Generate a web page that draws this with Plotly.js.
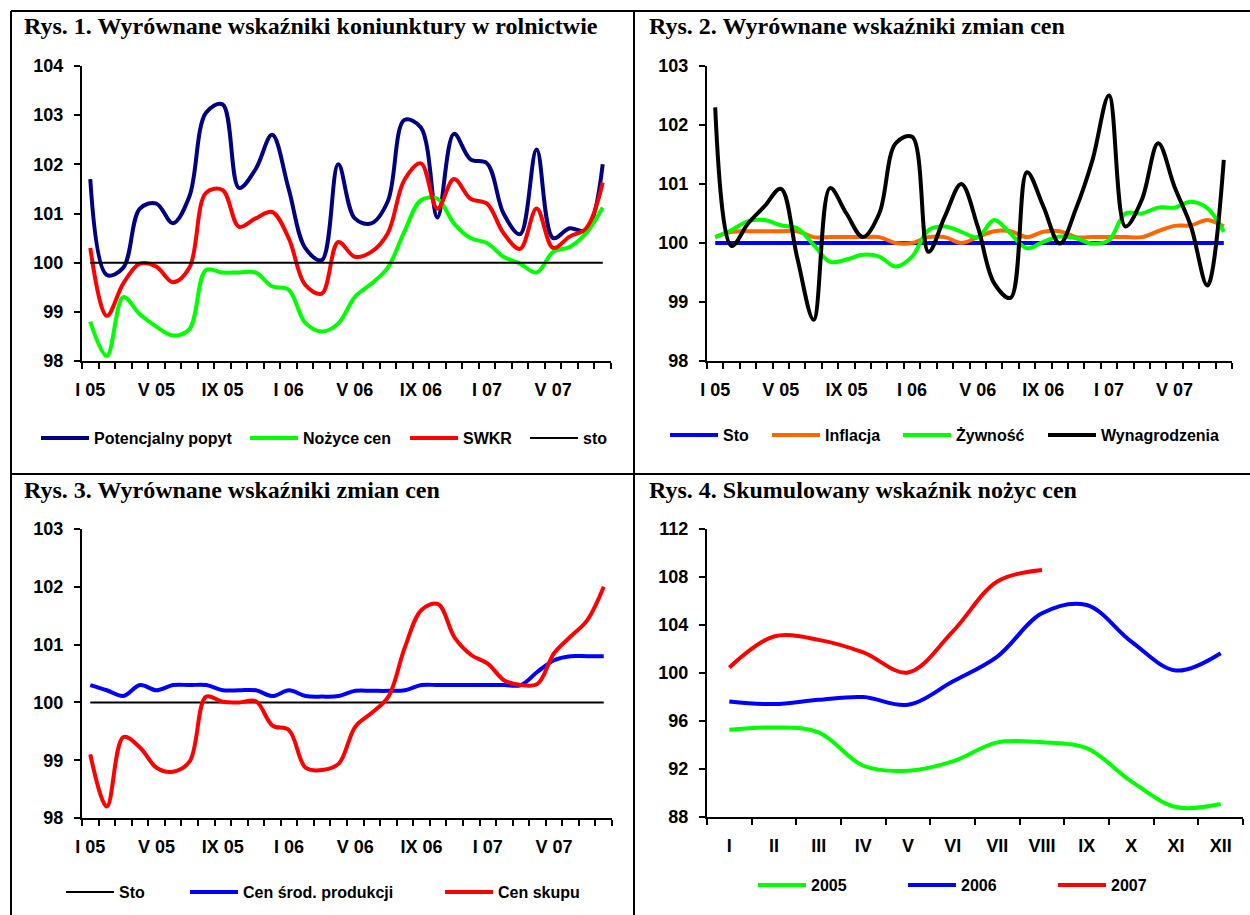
<!DOCTYPE html>
<html><head><meta charset="utf-8">
<script src="https://cdn.plot.ly/plotly-3.0.1.min.js"></script>
<style>html,body{margin:0;padding:0;background:#fff}#chart{width:1250px;height:915px}</style>
</head><body><div id="chart"></div>
<script>
// ---------- DATA ----------
const monthLabels = ['I 05','II 05','III 05','IV 05','V 05','VI 05','VII 05','VIII 05','IX 05','X 05','XI 05','XII 05',
  'I 06','II 06','III 06','IV 06','V 06','VI 06','VII 06','VIII 06','IX 06','X 06','XI 06','XII 06',
  'I 07','II 07','III 07','IV 07','V 07','VI 07','VII 07','VIII 07'];
const monthTickLabels = ['I 05','V 05','IX 05','I 06','V 06','IX 06','I 07','V 07'];
const romanMonths = ['I','II','III','IV','V','VI','VII','VIII','IX','X','XI','XII'];

// Rys. 1
const popyt  = [101.7, 99.75, 99.9, 101.1, 101.2, 100.8, 101.35, 103.05, 103.22, 101.52, 101.9, 102.6, 101.5, 100.3, 100.05, 102.0, 100.9, 100.8, 101.25, 102.9, 102.75, 100.92, 102.62, 102.1, 102.02, 101.0, 100.58, 102.3, 100.5, 100.7, 100.65, 102.0];
const nozyce = [98.8, 98.1, 99.3, 98.95, 98.7, 98.52, 98.65, 99.85, 99.8, 99.8, 99.8, 99.52, 99.45, 98.78, 98.6, 98.76, 99.3, 99.57, 99.9, 100.63, 101.27, 101.3, 100.8, 100.5, 100.4, 100.12, 99.98, 99.8, 100.22, 100.32, 100.6, 101.12];
const swkr   = [100.3, 98.92, 99.58, 99.98, 99.92, 99.6, 99.9, 101.42, 101.48, 100.73, 100.9, 101.03, 100.5, 99.55, 99.37, 100.42, 100.12, 100.22, 100.6, 101.68, 102.02, 101.1, 101.7, 101.3, 101.2, 100.6, 100.28, 101.1, 100.3, 100.53, 100.7, 101.63];
const sto1   = [100,100,100,100,100,100,100,100,100,100,100,100,100,100,100,100,100,100,100,100,100,100,100,100,100,100,100,100,100,100,100,100];

// Rys. 2
const sto2   = [100,100,100,100,100,100,100,100,100,100,100,100,100,100,100,100,100,100,100,100,100,100,100,100,100,100,100,100,100,100,100,100];
const inflacja = [100.1, 100.19, 100.2, 100.2, 100.2, 100.2, 100.1, 100.1, 100.1, 100.1, 100.1, 100.0, 100.0, 100.1, 100.1, 100.0, 100.1, 100.2, 100.2, 100.1, 100.19, 100.2, 100.1, 100.1, 100.1, 100.1, 100.1, 100.2, 100.29, 100.3, 100.39, 100.28];
const zywnosc  = [100.1, 100.22, 100.37, 100.39, 100.3, 100.25, 99.97, 99.68, 99.72, 99.8, 99.77, 99.6, 99.77, 100.22, 100.28, 100.19, 100.1, 100.39, 100.16, 99.91, 100.02, 100.11, 100.08, 99.99, 100.05, 100.5, 100.5, 100.6, 100.6, 100.7, 100.59, 100.19];
const wynagrodzenia = [102.3, 99.95, 100.33, 100.62, 100.92, 99.75, 98.7, 100.93, 100.5, 100.1, 100.5, 101.69, 101.8, 99.85, 100.45, 101.0, 100.28, 99.32, 99.07, 101.2, 100.62, 99.99, 100.59, 101.41, 102.5, 100.28, 100.73, 101.69, 100.95, 100.28, 99.28, 101.41];

// Rys. 3
const sto3 = [100,100,100,100,100,100,100,100,100,100,100,100,100,100,100,100,100,100,100,100,100,100,100,100,100,100,100,100,100,100,100,100];
const cenSrodProdukcji = [100.3, 100.21, 100.11, 100.3, 100.21, 100.3, 100.3, 100.3, 100.21, 100.21, 100.21, 100.11, 100.21, 100.11, 100.1, 100.11, 100.2, 100.2, 100.2, 100.21, 100.3, 100.3, 100.3, 100.3, 100.3, 100.3, 100.3, 100.53, 100.73, 100.8, 100.8, 100.8];
const cenSkupu = [99.1, 98.2, 99.4, 99.22, 98.87, 98.8, 98.98, 100.1, 100.01, 100.0, 100.02, 99.6, 99.52, 98.87, 98.83, 98.94, 99.58, 99.82, 100.1, 100.96, 101.6, 101.7, 101.12, 100.82, 100.67, 100.38, 100.3, 100.32, 100.85, 101.14, 101.42, 102.0];

// Rys. 4
const y2005 = [95.27, 95.46, 95.05, 92.27, 91.86, 92.63, 94.22, 94.22, 93.74, 90.97, 88.83, 89.08];
const y2006 = [97.63, 97.41, 97.77, 97.99, 97.35, 99.29, 101.37, 104.98, 105.67, 102.62, 100.21, 101.65];
const y2007 = [100.46, 103.04, 102.76, 101.71, 100.04, 103.45, 107.62, 108.59];

// ---------- BUILD ----------
const W = 1250, H = 915;
const idx = n => Array.from({length:n}, (_, i) => i);
const mx = idx(monthLabels.length);
const rx = idx(romanMonths.length);
const monthTickVals = monthTickLabels.map(l => monthLabels.indexOf(l));
const boundaries = n => Array.from({length:n+1}, (_, i) => i - 0.5);
const bold = {family:'Liberation Sans, Arial, sans-serif', size:18, color:'#000', weight:'bold'};
const legFont = {family:'Liberation Sans, Arial, sans-serif', size:16, color:'#000', weight:'bold'};

function line(name, x, y, xa, ya, color, width, leg) {
  return {type:'scatter', mode:'lines', name, x, y, xaxis:xa, yaxis:ya,
    line:{color, width, shape:'spline', smoothing:1}, legend:leg, hoverinfo:'skip'};
}
const T = 4;
const traces = [
  line('Potencjalny popyt', mx, popyt, 'x', 'y', '#000080', T, 'legend'),
  line('Nożyce cen', mx, nozyce, 'x', 'y', '#00FF00', T, 'legend2'),
  line('SWKR', mx, swkr, 'x', 'y', '#FF0000', T, 'legend3'),
  line('sto', mx, sto1, 'x', 'y', '#000000', 2, 'legend4'),
  line('Sto', mx, sto2, 'x2', 'y2', '#0000FF', T, 'legend5'),
  line('Inflacja', mx, inflacja, 'x2', 'y2', '#FF6600', T, 'legend6'),
  line('Żywność', mx, zywnosc, 'x2', 'y2', '#00FF00', T, 'legend7'),
  line('Wynagrodzenia', mx, wynagrodzenia, 'x2', 'y2', '#000000', T, 'legend8'),
  line('Sto', mx, sto3, 'x3', 'y3', '#000000', 2, 'legend9'),
  line('Cen środ. produkcji', mx, cenSrodProdukcji, 'x3', 'y3', '#0000FF', T, 'legend10'),
  line('Cen skupu', mx, cenSkupu, 'x3', 'y3', '#FF0000', T, 'legend11'),
  line('2005', rx, y2005, 'x4', 'y4', '#00FF00', T, 'legend12'),
  line('2006', rx, y2006, 'x4', 'y4', '#0000FF', T, 'legend13'),
  line('2007', rx.slice(0, y2007.length), y2007, 'x4', 'y4', '#FF0000', T, 'legend14'),
];

function xAxis(domPx, anchor, n, tickvals, ticktext) {
  return {domain:[domPx[0]/W, domPx[1]/W], anchor, range:[-0.5, n-0.5], tickmode:'array', tickvals, ticktext,
    ticks:'', showline:true, linecolor:'#000', linewidth:2, showgrid:false, zeroline:false,
    tickfont:bold, ticklabelstandoff:11, fixedrange:true,
    minor:{tickmode:'array', tickvals:boundaries(n), ticks:'outside', ticklen:6, tickwidth:2, tickcolor:'#000', showgrid:false}};
}
function yAxis(domPx, anchor, range, dtick) {
  return {domain:[1-domPx[1]/H, 1-domPx[0]/H], anchor, range, tick0:range[0], dtick,
    ticks:'outside', ticklen:6, tickwidth:2, tickcolor:'#000', showline:true, linecolor:'#000', linewidth:2,
    showgrid:false, zeroline:false, tickfont:bold, ticklabelstandoff:7, fixedrange:true};
}

const layout = {
  width:W, height:H, margin:{l:0,r:0,t:0,b:0}, paper_bgcolor:'#fff', plot_bgcolor:'rgba(0,0,0,0)',
  showlegend:true,
  xaxis:  xAxis([82,611], 'y', mx.length, monthTickVals, monthTickLabels),
  yaxis:  yAxis([66,361], 'x', [98,104], 1),
  xaxis2: xAxis([707,1232], 'y2', mx.length, monthTickVals, monthTickLabels),
  yaxis2: yAxis([66,361], 'x2', [98,103], 1),
  xaxis3: xAxis([82,612], 'y3', mx.length, monthTickVals, monthTickLabels),
  yaxis3: yAxis([529,818], 'x3', [98,103], 1),
  xaxis4: xAxis([707,1243], 'y4', rx.length, rx, romanMonths),
  yaxis4: yAxis([529,817], 'x4', [88,112], 4),
  annotations: [
    ['Rys. 1. Wyrównane wskaźniki koniunktury w rolnictwie', 22, 26],
    ['Rys. 2. Wyrównane wskaźniki zmian cen', 647, 26],
    ['Rys. 3. Wyrównane wskaźniki zmian cen', 22, 490],
    ['Rys. 4. Skumulowany wskaźnik nożyc cen', 647, 490],
  ].map(([text, x, y]) => ({text, xref:'paper', yref:'paper', x:x/W, y:1-y/H, xanchor:'left', yanchor:'middle',
    showarrow:false, font:{family:'Liberation Serif, Times New Roman, serif', size:24, color:'#000', weight:'bold'}})),
  shapes: [
    [11, 11, 11, H], [11, 11, W, 11], [634, 11, 634, H], [11, 474, W, 474]
  ].map(([x0,y0,x1,y1]) => ({type:'line', xref:'paper', yref:'paper', x0:x0/W, x1:x1/W, y0:1-y0/H, y1:1-y1/H,
    line:{color:'#000', width:2}})),
};
// one legend per entry (sample start px, centre y px)
const legPos = [[41,438],[250,438],[410,438],[530,438],
                [670,435],[772,435],[903,435],[1048,435],
                [66,892],[190,892],[445,892],
                [758,885],[908,885],[1058,885]];
legPos.forEach(([x,y], i) => {
  layout[i === 0 ? 'legend' : 'legend' + (i+1)] = {x:(x-5)/W, y:1-y/H, xanchor:'left', yanchor:'middle',
    orientation:'h', itemwidth:48, font:legFont, bgcolor:'rgba(0,0,0,0)', borderwidth:0, itemclick:false, itemdoubleclick:false};
});

Plotly.newPlot('chart', traces, layout, {displayModeBar:false, staticPlot:true});
</script>
</body></html>
